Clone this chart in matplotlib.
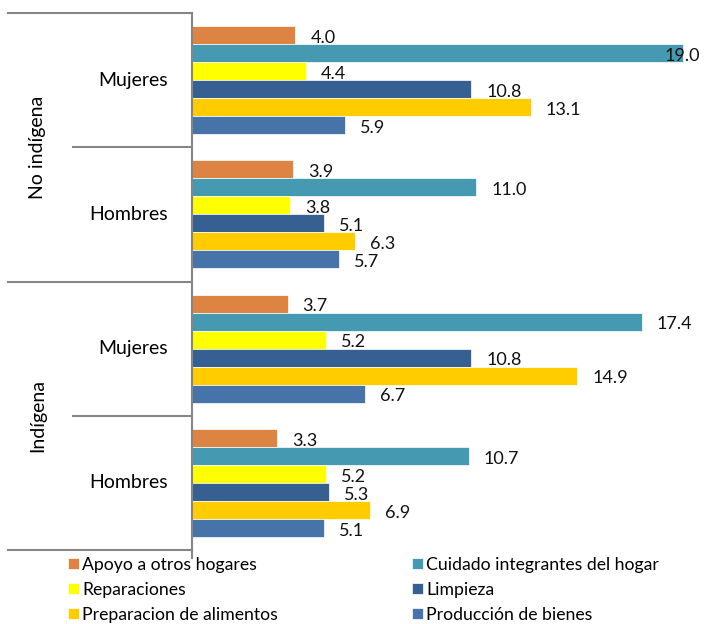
import matplotlib
matplotlib.use("Agg")
import matplotlib.pyplot as plt
import numpy as np

plt.rcParams['font.family'] = ['Lato', 'DejaVu Sans']

# data, top group first
groups = ["No indígena", "Indígena"]
sexes = ["Mujeres", "Hombres", "Mujeres", "Hombres"]
series = ["Apoyo a otros hogares", "Cuidado integrantes del hogar", "Reparaciones",
          "Limpieza", "Preparacion de alimentos", "Producción de bienes"]
apoyo = [4.0, 3.9, 3.7, 3.3]
cuidado = [19.0, 11.0, 17.4, 10.7]
reparaciones = [4.4, 3.8, 5.2, 5.2]
limpieza = [10.8, 5.1, 10.8, 5.3]
preparacion = [13.1, 6.3, 14.9, 6.9]
produccion = [5.9, 5.7, 6.7, 5.1]
values = [apoyo, cuidado, reparaciones, limpieza, preparacion, produccion]
colors = ["#DD8443", "#4599B0", "#FFFF00", "#366092", "#FFCC00", "#4674A8"]

W, H = 715, 624
fig = plt.figure(figsize=(W/100, H/100), dpi=100)
ax = fig.add_axes([192/W, 1-550/H, 1-192/W, (550-13)/H])

XMAX = 523/25.85
h = 0.134
y = np.arange(len(sexes))
handles = []
for i, (vals, c) in enumerate(zip(values, colors)):
    pos = y + (i - 2.5)*h
    b = ax.barh(pos, vals, height=h, color=c, edgecolor="white", linewidth=0.5, label=series[i])
    handles.append(b)
    for p, v in zip(pos, vals):
        if v + 0.6 + 1.9 > XMAX:
            # no room on the right: label is pulled back over the bar end
            ax.text(v + 0.65, p + 0.02, f"{v:.1f}", ha="right", va="center", fontsize=13, color="#111111")
        else:
            ax.text(v + 0.58, p + 0.02, f"{v:.1f}", ha="left", va="center", fontsize=13, color="#111111")

ax.set_xlim(0, XMAX)
ax.set_ylim(3.5, -0.5)
ax.set_xticks([])
ax.set_yticks([])
for s in ["top", "right", "bottom"]:
    ax.spines[s].set_visible(False)
ax.spines["left"].set_color("#868686")
ax.spines["left"].set_linewidth(1.5)

tr = ax.get_yaxis_transform()
gray = "#868686"
x_far = (8-192)/523
x_near = (73-192)/523
for yy, xs in [(-0.5, x_far), (0.5, x_near), (1.5, x_far), (2.5, x_near), (3.5, x_far)]:
    ax.plot([xs, 0], [yy, yy], color=gray, lw=1.5, transform=tr, clip_on=False)
ax.plot([0, 0], [3.5, 3.56], color=gray, lw=1.5, transform=tr, clip_on=False)

for k, s in enumerate(sexes):
    ax.text((168-192)/523, k, s, ha="right", va="center", fontsize=14, transform=tr)
for k, g in enumerate(groups):
    ax.text((38-192)/523, 2*k + 0.5, g, ha="center", va="center", rotation=90,
            fontsize=14, transform=tr)

# legend is filled row by row in the reference
order = [0, 2, 4, 1, 3, 5]
fig.legend(handles=[handles[i] for i in order], labels=[series[i] for i in order],
           ncol=2, loc="upper left",
           bbox_to_anchor=(61/W, 1-550/H), frameon=False, fontsize=12.7,
           handlelength=0.6, handleheight=0.6, handletextpad=0.2,
           columnspacing=7.6, labelspacing=0.5, borderaxespad=0)

fig.savefig("out.png", dpi=100)
